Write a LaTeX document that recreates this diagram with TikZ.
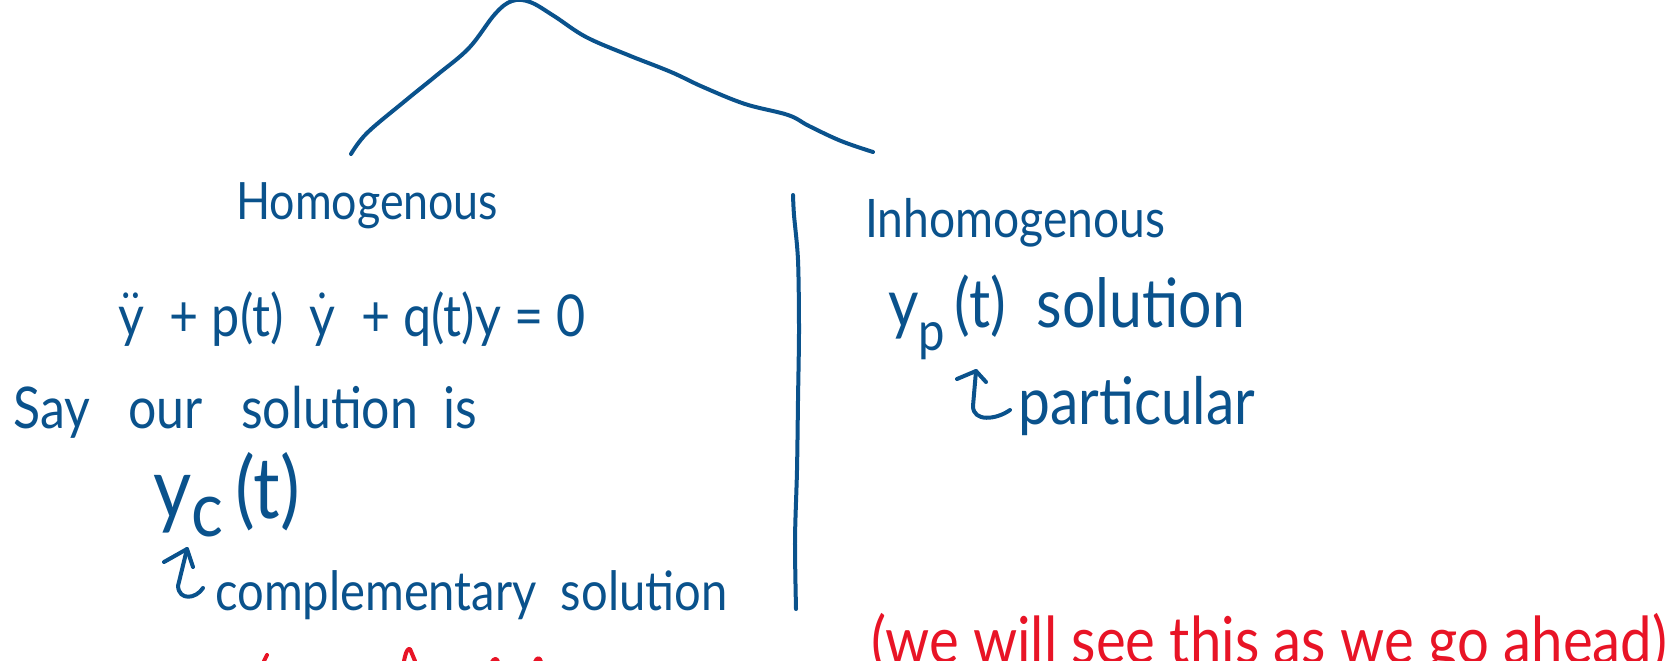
\documentclass[tikz,border=0pt]{standalone}
\usepackage{fontspec}
\usepackage{amsmath}
\setmainfont{Lato}
\usetikzlibrary{arrows.meta}
\definecolor{ink}{RGB}{10,82,140}
\definecolor{redink}{RGB}{232,20,38}
\newcommand{\fitw}[2]{\scalebox{1}[1.15]{\resizebox{#1}{!}{#2}}}
\begin{document}
\begin{tikzpicture}[x=1pt,y=-1pt,
  txt/.style={inner sep=0pt, anchor=base west, text=ink},
  redtxt/.style={inner sep=0pt, anchor=base west, text=redink},
  pen/.style={draw=ink, line width=4pt, line cap=round, line join=round},
  redpen/.style={draw=redink, line width=4pt, line cap=round, line join=round}]
\useasboundingbox (0,0) rectangle (1670,661);
\clip (0,0) rectangle (1670,661);
% roof curve
\draw[pen] plot[smooth, tension=0.6] coordinates {(351,154) (367,133) (405,101) (437,75) (469,48) (495,14) (512,1) (530,2) (554,16) (586,37) (628,55) (671,72) (703,87) (745,104) (788,115) (809,126) (841,141) (873,152)};
% divider
\draw[pen] plot[smooth] coordinates {(793,195) (794,215) (798,260) (799,330) (798,400) (797,470) (795,540) (796,609)};
% left side
\node[txt] (homog) at (236,219) {\fitw{262pt}{Homogenous}};
\node[txt] (eq) at (118,336) {\fitw{467pt}{$\ddot{\text{y}}$\ \ +\ p(t)\ \ $\dot{\text{y}}$\ \ +\ q(t)y\ =\ 0}};
\node[txt] (say) at (13,428) {\fitw{464pt}{Say\ \ \ our\ \ \ solution\ \ is}};
\node[txt] (yc) at (153,518) {\fitw{147pt}{y\raisebox{-.22em}{\small c}\,(t)}};
\node[txt] (comp) at (215,610) {\fitw{512pt}{complementary\ \ solution}};
\coordinate (cstart) at (203,588);
\coordinate (ctip) at (187,549);
\draw[pen] (cstart) .. controls (196,599) and (179,601) .. (178,586) -- (ctip);
\draw[pen] (164,562) -- (ctip) -- (193,567);
% right side
\node[txt] (inh) at (865,237) {\fitw{300pt}{Inhomogenous}};
\node[txt] (yp) at (888,327) {\fitw{357pt}{y\raisebox{-.35em}{\footnotesize p}\,(t)\ \ solution}};
\node[txt] (part) at (1018,424) {\fitw{237pt}{particular}};
\coordinate (pstart) at (1010,410);
\coordinate (ptip) at (976,371);
\draw[pen] (pstart) .. controls (996,420) and (973,422) .. (973,406) -- (ptip);
\draw[pen] (957,379) -- (ptip) -- (986,382);
% red notes
\node[redtxt] (note) at (871,663) {\fitw{796pt}{(we will see this as we go ahead)}};
\draw[redpen] (264,661) -- (267,655);
\draw[redpen] (404,661) .. controls (406,651) and (408,648) .. (410,649) -- (415,661);
\draw[redpen] (492,662) .. controls (494,658) and (497,658) .. (498,662);
\draw[redpen] (535,662) .. controls (537,657) and (540,657) .. (541,662);
\end{tikzpicture}
\end{document}
